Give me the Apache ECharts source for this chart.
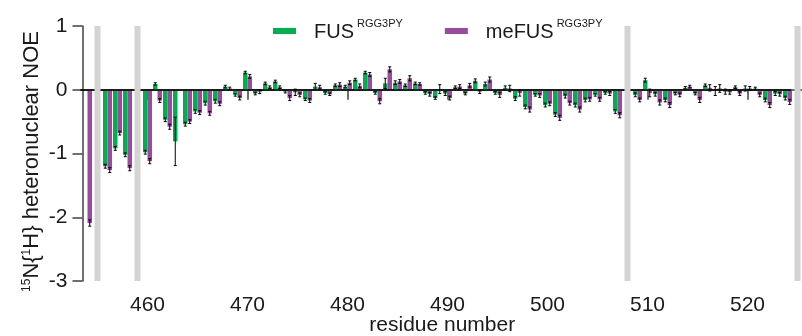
<!DOCTYPE html>
<html>
<head>
<meta charset="utf-8">
<script src="https://cdn.jsdelivr.net/npm/echarts@6/dist/echarts.min.js"></script>
<style>
  html, body { margin: 0; padding: 0; background: #fff; }
  #chart { width: 802px; height: 336px; }
</style>
</head>
<body>
<div id="chart"></div>
<script>
// residues 454..525, null where no value
const residues = [454,455,456,457,458,459,460,461,462,463,464,465,466,467,468,469,470,471,472,473,474,475,476,477,478,479,480,481,482,483,484,485,486,487,488,489,490,491,492,493,494,495,496,497,498,499,500,501,502,503,504,505,506,507,508,509,510,511,512,513,514,515,516,517,518,519,520,521,522,523,524,525];

const fusNoe = [null,null,-1.20,-0.92,-1.02,null,-0.98,0.09,-0.47,-0.81,-0.54,-0.34,-0.21,-0.18,0.05,-0.08,0.27,-0.06,0.10,0.13,-0.03,-0.04,-0.15,0.05,-0.05,0.07,0.05,0.16,0.27,-0.05,0.10,0.11,0.07,0.10,-0.05,-0.13,-0.06,0.04,-0.06,0.14,0.09,-0.05,0.03,-0.14,-0.27,-0.08,-0.24,-0.39,-0.10,-0.24,-0.16,-0.08,-0.05,-0.34,null,-0.08,0.15,-0.07,-0.16,-0.06,0.03,-0.06,0.07,-0.02,-0.03,0.04,0.02,0.02,-0.16,-0.06,-0.13,null];
const meFusNoe = [-2.09,null,-1.26,-0.68,-1.23,null,-1.12,-0.17,-0.58,null,-0.50,-0.36,-0.37,-0.22,0.02,-0.13,0.21,-0.03,0.04,0.04,-0.13,-0.08,-0.17,0.04,-0.07,0.08,0.11,0.06,0.24,-0.18,0.32,0.13,0.18,0.09,-0.07,0.01,-0.13,0.05,0.07,-0.03,0.16,-0.08,0.02,-0.05,-0.31,-0.09,-0.22,-0.44,-0.21,-0.31,-0.15,-0.15,-0.06,-0.40,null,-0.16,-0.05,-0.20,-0.24,-0.08,0.05,-0.16,0.03,0.02,-0.04,-0.06,0.02,-0.08,-0.24,-0.07,-0.19,null];

const fusErr = [null,null,0.03,0.03,0.03,null,0.03,0.02,0.03,0.38,0.03,0.03,0.03,0.03,0.02,0.02,0.02,0.02,0.02,0.02,0.02,0.05,0.02,0.05,0.02,0.02,0.02,0.02,0.02,0.02,0.08,0.03,0.02,0.02,0.02,0.02,0.03,0.02,0.02,0.03,0.03,0.02,0.03,0.03,0.03,0.02,0.03,0.03,0.03,0.03,0.03,0.02,0.02,0.03,null,0.03,0.03,0.03,0.03,0.02,0.02,0.02,0.02,0.07,0.04,0.02,0.04,0.02,0.03,0.03,0.03,null];
const meFusErr = [0.05,null,0.04,0.03,0.04,null,0.04,0.03,0.04,null,0.03,0.03,0.03,0.03,0.02,0.03,0.03,0.03,0.02,0.02,0.04,0.03,0.03,0.03,0.02,0.03,0.03,0.03,0.03,0.04,0.04,0.03,0.04,0.02,0.03,0.07,0.03,0.03,0.03,0.03,0.04,0.04,0.05,0.05,0.04,0.03,0.03,0.04,0.03,0.04,0.03,0.03,0.03,0.04,null,0.03,0.06,0.04,0.04,0.03,0.02,0.04,0.05,0.06,0.03,0.03,0.03,0.03,0.04,0.03,0.04,null];

// residues without data (grey bands)
const missingResidues = [455, 459, 508, 525];

const xTicks = [460, 470, 480, 490, 500, 510, 520];

const GREEN = '#00B050';
const PURPLE = '#9B4A9F';
const FONT = "'Liberation Sans', Arial, sans-serif";
const BAR_W = 4.5;

function pairs(vals) {
  return residues.map((r, i) => [r, vals[i]]);
}

function errItems(vals, errs, side) {
  const out = [];
  residues.forEach((r, i) => {
    if (vals[i] != null && errs[i] != null) out.push([r, vals[i], errs[i], side]);
  });
  return out;
}

function renderErr(params, api) {
  const x = api.value(0), v = api.value(1), e = api.value(2), side = api.value(3);
  const top = api.coord([x, v + e]);
  const bot = api.coord([x, v - e]);
  const px = top[0] + side * BAR_W / 2;
  const st = { stroke: '#000', lineWidth: 1 };
  return {
    type: 'group',
    children: [
      { type: 'line', shape: { x1: px, y1: top[1], x2: px, y2: bot[1] }, style: st },
      { type: 'line', shape: { x1: px - 1.5, y1: top[1], x2: px + 1.5, y2: top[1] }, style: st },
      { type: 'line', shape: { x1: px - 1.5, y1: bot[1], x2: px + 1.5, y2: bot[1] }, style: st }
    ]
  };
}

const chart = echarts.init(document.getElementById('chart'), null, { renderer: 'canvas' });

const option = {
  animation: false,
  textStyle: { fontFamily: FONT },
  grid: { left: 82.5, right: 0, top: 26, bottom: 55, outerBoundsMode: 'none', containLabel: false },
  legend: {
    left: 273,
    top: 18,
    padding: 0,
    icon: 'rect',
    itemWidth: 23,
    itemHeight: 6,
    itemGap: 42,
    data: ['FUS', 'meFUS'],
    formatter: function (name) { return '{n|' + name + '}{s|RGG3PY}'; },
    textStyle: {
      color: '#1a1a1a',
      rich: {
        n: { fontSize: 20, fontFamily: FONT, color: '#1a1a1a', lineHeight: 26, padding: [3, 0, 0, 13] },
        s: { fontSize: 11, fontFamily: FONT, color: '#1a1a1a', verticalAlign: 'top', lineHeight: 12, padding: [0, 0, 0, 3] }
      }
    }
  },
  xAxis: {
    type: 'value',
    min: 453.5,
    max: 525.45,
    name: 'residue number',
    nameLocation: 'middle',
    nameGap: 34,
    nameMoveOverlap: false,
    nameTextStyle: { fontSize: 21, color: '#1a1a1a', fontFamily: FONT },
    axisLine: { show: true, lineStyle: { color: '#404040', width: 1.5 } },
    axisTick: { show: true, customValues: xTicks, length: 10, lineStyle: { color: '#404040', width: 1.5 } },
    axisLabel: { customValues: xTicks, fontSize: 21, color: '#1a1a1a', margin: 14, fontFamily: FONT },
    splitLine: { show: false }
  },
  yAxis: {
    type: 'value',
    min: -3,
    max: 1,
    interval: 1,
    name: '{s|15}N{{s|1}H} heteronuclear NOE',
    nameLocation: 'middle',
    nameRotate: 90,
    nameGap: 40,
    nameMoveOverlap: false,
    nameTextStyle: {
      fontSize: 22, color: '#1a1a1a', fontFamily: FONT,
      padding: [0, 16, 0, 0],
      rich: { s: { fontSize: 12, fontFamily: FONT, color: '#1a1a1a', verticalAlign: 'top' } }
    },
    axisLine: { show: true, lineStyle: { color: '#404040', width: 1.5 } },
    axisTick: { show: true, length: 10, lineStyle: { color: '#404040', width: 1.5 } },
    axisLabel: { fontSize: 21, color: '#1a1a1a', margin: 15, fontFamily: FONT },
    splitLine: { show: false }
  },
  series: [
    {
      name: 'FUS',
      type: 'bar',
      data: pairs(fusNoe),
      barWidth: BAR_W,
      barGap: '0%',
      itemStyle: { color: GREEN },
      markLine: {
        silent: true,
        symbol: 'none',
        z: 5,
        label: { show: false },
        lineStyle: { color: '#000', width: 1.5, type: 'solid' },
        data: [[{ coord: [453.5, 0] }, { coord: [524.6, 0] }]]
      }
    },
    {
      name: 'meFUS',
      type: 'bar',
      data: pairs(meFusNoe),
      barWidth: BAR_W,
      barGap: '0%',
      itemStyle: { color: PURPLE }
    },
    {
      name: 'errFUS',
      type: 'custom',
      renderItem: renderErr,
      data: errItems(fusNoe, fusErr, -1),
      z: 4,
      silent: true
    },
    {
      name: 'errMeFUS',
      type: 'custom',
      renderItem: renderErr,
      data: errItems(meFusNoe, meFusErr, 1),
      z: 4,
      silent: true,
      markArea: {
        silent: true,
        z: 10,
        itemStyle: { color: '#D4D4D4' },
        data: missingResidues.map(r => [{ xAxis: r - 0.3 }, { xAxis: r + 0.3 }])
      }
    }
  ]
};

chart.setOption(option);
</script>
</body>
</html>
